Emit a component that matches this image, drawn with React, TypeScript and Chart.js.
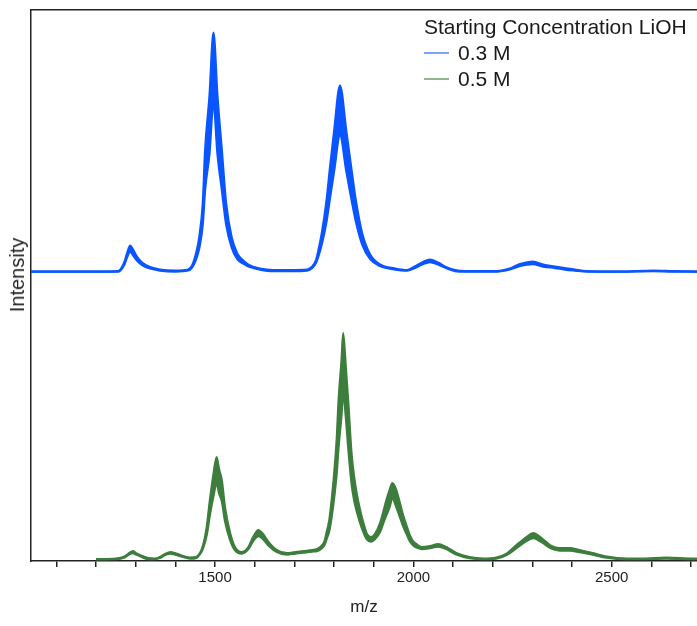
import React, { useEffect, useRef } from "react";
import { Chart, registerables } from "chart.js";

Chart.register(...registerables);

const FONT = "'Liberation Sans', Arial, Helvetica, sans-serif";

const X_MIN = 1036;
const X_MAX = 2715;
const X_TICKS = [1100, 1200, 1300, 1400, 1500, 1600, 1700, 1800, 1900, 2000, 2100, 2200, 2300, 2400, 2500, 2600, 2700];
const X_LABELED = [1500, 2000, 2500];
const Y_MIN = -2;
const Y_MAX = 549;
const BLUE_OFFSET = 287.5;

const SERIES_NAMES = ["0.3 M", "0.5 M"];
const LEGEND_TITLE = "Starting Concentration LiOH";
const X_TITLE = "m/z";
const Y_TITLE = "Intensity";

// 0.3 M (blue) spectrum: m/z, upper envelope, lower envelope
const BLUE_MZ = [1036, 1210, 1256, 1271, 1278, 1286, 1293, 1303, 1316, 1336, 1361, 1399, 1432, 1442, 1452, 1460, 1469, 1475, 1486, 1496, 1506, 1517, 1528, 1542, 1556, 1571, 1588, 1613, 1646, 1689, 1732, 1745, 1755, 1762, 1769, 1781, 1790, 1800, 1815, 1831, 1843, 1855, 1871, 1891, 1916, 1954, 1984, 2001, 2022, 2042, 2062, 2082, 2105, 2130, 2211, 2243, 2269, 2301, 2327, 2357, 2382, 2407, 2437, 2521, 2604, 2654, 2715];
const BLUE_HI = [0, 0, 0.5, 9, 18, 26, 22, 15, 9, 4.5, 2, 1, 2, 6, 18, 34, 68, 122, 176, 239, 176, 122, 68, 34, 18, 11, 6, 3, 1.5, 1.5, 2, 5, 12, 24, 38, 71, 105, 140, 186, 140, 105, 71, 38, 17, 7, 3, 1.5, 4.5, 9, 12, 9, 4.5, 1.5, 0.5, 0.5, 3, 7.5, 10, 7, 5, 3.5, 2, 0.5, 0, 1, 0.5, 0];
const BLUE_LO = [0, 0, 0, 6.5, 14, 20, 16.5, 11, 6.5, 3, 1, 0, 1, 4, 12, 23, 47, 82, 118, 169, 118, 82, 47, 24, 12.5, 8, 4.5, 2, 0.5, 0.5, 1, 3.5, 9, 17, 27, 50, 74, 100, 136, 100, 74, 50, 27, 12.5, 5.5, 2, 1, 3, 7, 9.5, 7, 3.5, 0.5, 0, 0, 2, 5.5, 7.5, 5, 3.5, 2, 1, 0, 0, 0.5, 0, 0];

// 0.5 M (green) spectrum: m/z, upper envelope, lower envelope
const GREEN_MZ = [1200, 1250, 1272, 1283, 1293, 1301, 1310, 1331, 1349, 1361, 1374, 1387, 1399, 1412, 1437, 1452, 1462, 1470, 1479, 1487, 1496, 1504, 1510, 1517, 1525, 1538, 1550, 1567, 1584, 1596, 1609, 1621, 1635, 1656, 1681, 1702, 1723, 1745, 1757, 1768, 1776, 1782, 1788, 1795, 1801, 1807, 1811, 1819, 1823, 1829, 1836, 1844, 1850, 1857, 1865, 1874, 1883, 1893, 1903, 1916, 1926, 1932, 1940, 1947, 1956, 1966, 1974, 1983, 1991, 1999, 2011, 2021, 2042, 2062, 2083, 2108, 2141, 2176, 2209, 2235, 2260, 2285, 2302, 2323, 2348, 2369, 2394, 2419, 2452, 2487, 2537, 2578, 2637, 2705, 2715];
const GREEN_HI = [0, 0.5, 2.5, 6, 8, 6, 4, 1, 0.5, 2, 5, 7, 6, 4, 1.5, 2, 6, 14, 32, 59, 85, 102, 90, 79, 52, 26, 12, 7, 12, 22, 29, 25, 17, 9, 6, 7, 8, 9, 10, 13, 18, 28, 39, 63, 89, 122, 156, 200, 226, 196, 156, 106, 84, 66, 50, 36, 25, 22, 25, 36, 50, 59, 69, 76, 70, 56, 44, 33, 24, 18, 14, 12, 13, 15, 12, 6, 2, 0.5, 1.5, 5.5, 14, 22, 26, 21, 13, 11, 11, 9, 6, 2.5, 0.5, 0.5, 1.5, 0.5, 0.5];
const GREEN_LO = [0, 0, 1.5, 4.5, 6, 4.5, 3, 0, 0, 1, 4, 5.5, 4.5, 3, 0.5, 1, 5, 11, 24, 44, 63, 76, 66, 58, 38, 19, 9, 5.5, 10, 18, 23, 20, 13.5, 7, 4.5, 5.5, 6.5, 7.5, 8, 10.5, 14, 21, 28, 45, 64, 87, 110, 145, 167, 145, 110, 76, 60, 48, 37, 27, 19.5, 17.5, 20, 27, 38, 44, 52, 61, 53, 42, 33, 25, 18, 14, 11, 10, 11, 12.5, 10, 4.5, 1, 0, 0.5, 4, 11, 18, 21, 17, 10.5, 8.5, 8.5, 7, 4.5, 1.5, 0, 0, 0.5, 0, 0];

const BLUE = "#0a55ff";
const GREEN = "#3d7d3d";
const BLUE_LEGEND = "#7fa3f4";
const GREEN_LEGEND = "#8fb78f";
const AXIS = "#222222";

function pts(mz: number[], v: number[], off: number) {
  return mz.map((m, i) => ({ x: m, y: v[i] + off }));
}

export default function App() {
  const ref = useRef<HTMLCanvasElement | null>(null);

  useEffect(() => {
    if (!ref.current) return;
    const line = (data: any[], color: string, fill: any) => ({
      data,
      borderColor: color,
      backgroundColor: color,
      borderWidth: 2.2,
      pointRadius: 0,
      fill,
      cubicInterpolationMode: "monotone" as const,
    });
    const chart = new Chart(ref.current, {
      type: "line",
      data: {
        datasets: [
          { label: SERIES_NAMES[0] + " lo", ...line(pts(BLUE_MZ, BLUE_LO, BLUE_OFFSET), BLUE, false) },
          { label: SERIES_NAMES[0], ...line(pts(BLUE_MZ, BLUE_HI, BLUE_OFFSET), BLUE, "-1") },
          { label: SERIES_NAMES[1] + " lo", ...line(pts(GREEN_MZ, GREEN_LO, 0), GREEN, false) },
          { label: SERIES_NAMES[1], ...line(pts(GREEN_MZ, GREEN_HI, 0), GREEN, "-1") },
        ],
      },
      options: {
        responsive: false,
        animation: false,
        events: [],
        layout: { padding: { top: 10, right: 0, bottom: 4, left: 0 } },
        plugins: { legend: { display: false }, tooltip: { enabled: false }, title: { display: false } },
        scales: {
          x: {
            type: "linear",
            position: "bottom",
            min: X_MIN,
            max: X_MAX,
            afterBuildTicks: (axis: any) => {
              axis.ticks = X_TICKS.map((v) => ({ value: v }));
            },
            ticks: {
              autoSkip: false,
              maxRotation: 0,
              padding: 2,
              color: AXIS,
              font: { family: FONT, size: 15 },
              callback: (v: any) => (X_LABELED.includes(Number(v)) ? String(v) : ""),
            },
            grid: { drawOnChartArea: false, drawTicks: true, tickLength: 6, color: AXIS, lineWidth: 1.5 },
            border: { display: true, color: AXIS, width: 1.5 },
            title: { display: true, text: X_TITLE, color: AXIS, font: { family: FONT, size: 17 }, padding: { top: 8.5, bottom: 4 } },
          },
          xTop: {
            type: "linear",
            position: "top",
            min: X_MIN,
            max: X_MAX,
            ticks: { display: false },
            grid: { drawOnChartArea: false, drawTicks: false },
            border: { display: true, color: AXIS, width: 1.5 },
          },
          y: {
            type: "linear",
            min: Y_MIN,
            max: Y_MAX,
            ticks: { display: false },
            grid: { drawOnChartArea: false, drawTicks: false },
            border: { display: true, color: AXIS, width: 1.5 },
            title: { display: false },
            afterFit: (scale: any) => {
              scale.width = 31;
            },
          },
        },
      },
    });
    return () => chart.destroy();
  }, []);

  const item = (name: string, color: string) => (
    <div style={{ display: "flex", alignItems: "center", height: 26 }}>
      <span style={{ display: "inline-block", width: 25, height: 2, background: color, marginRight: 9 }} />
      <span>{name}</span>
    </div>
  );

  return (
    <div style={{ position: "absolute", left: 0, top: 0, width: 697, height: 626, background: "#fff" }}>
      <canvas ref={ref} width={697} height={626} style={{ position: "absolute", left: 0, top: 0 }} />
      <div
        style={{
          position: "absolute",
          left: 17,
          top: 275,
          transform: "translate(-50%, -50%) rotate(-90deg)",
          fontFamily: FONT,
          fontSize: 20,
          color: AXIS,
          whiteSpace: "nowrap",
          lineHeight: "22px",
        }}
      >
        {Y_TITLE}
      </div>
      <div style={{ position: "absolute", left: 424, top: 14, fontFamily: FONT, fontSize: 21, color: "#1a1a1a", lineHeight: "26px", whiteSpace: "nowrap" }}>
        <div>{LEGEND_TITLE}</div>
        {item(SERIES_NAMES[0], BLUE_LEGEND)}
        {item(SERIES_NAMES[1], GREEN_LEGEND)}
      </div>
    </div>
  );
}
